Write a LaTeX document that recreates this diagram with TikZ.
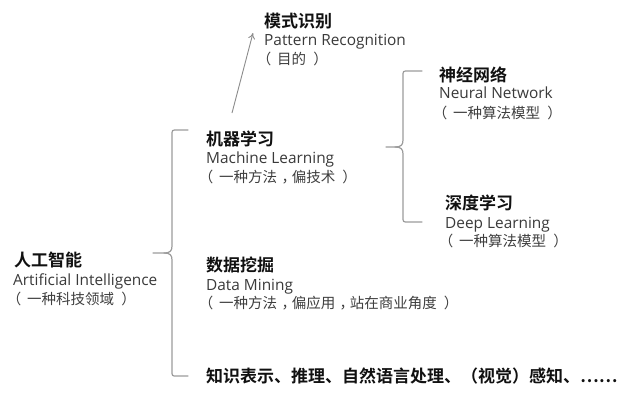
\documentclass[tikz,border=0pt]{standalone}
\usepackage{fontspec}
\setmainfont{Open Sans}
\newfontfamily\cjk{Noto Sans CJK SC}
\newfontfamily\cjkb{Noto Sans CJK SC Bold}
\usetikzlibrary{arrows.meta}
\definecolor{headc}{HTML}{111111}
\definecolor{engc}{HTML}{3A3A3A}
\definecolor{parc}{HTML}{3F3F3F}
\definecolor{linec}{HTML}{9C9C9C}
\newcommand\mylp{\makebox[0.9em][l]{\hspace{-0.5em}（}}
\newcommand\myrp{\makebox[0.95em][r]{）\hspace{-0.55em}}}
\newcommand\mycm{\hspace{0.3em}，\hspace{-0.3em}}
\tikzset{
  head/.style={anchor=base west, inner sep=0pt, text=headc, font=\cjkb\fontsize{17}{17}\selectfont},
  eng/.style={anchor=base west, inner sep=0pt, text=engc, font=\fontsize{15.4}{15.4}\selectfont},
  par/.style={anchor=base west, inner sep=0pt, text=parc, font=\cjk\fontsize{14.5}{14.5}\selectfont},
  brace/.style={draw=linec, line width=1.2pt, line cap=round, line join=round},
  arr/.style={draw=linec!90!black, line width=0.9pt, -{To[length=6pt,width=7pt]}}
}
\begin{document}
\begin{tikzpicture}[x=1pt,y=-1pt]
\useasboundingbox[fill=white] (0,0) rectangle (623,400);

% Pattern Recognition
\node[head] (pr1) at (264,27) {模式识别};
\node[eng]  (pr2) at (264,45) {Pattern Recognition};
\node[par]  (pr3) at (264,64) {\mylp 目的\myrp};

% Machine Learning
\node[head] (ml1) at (206,145) {机器学习};
\node[eng]  (ml2) at (206,163) {Machine Learning};
\node[par]  (ml3) at (206,182) {\mylp 一种方法\mycm 偏技术\myrp};

% Neural Network
\node[head] (nn1) at (439,81) {神经网络};
\node[eng]  (nn2) at (439,98) {Neural Network};
\node[par]  (nn3) at (440,118) {\mylp 一种算法模型\myrp};

% Deep Learning
\node[head] (dl1) at (445,209) {深度学习};
\node[eng]  (dl2) at (445,228) {Deep Learning};
\node[par]  (dl3) at (446,246) {\mylp 一种算法模型\myrp};

% Artificial Intelligence
\node[head] (ai1) at (14,266) {人工智能};
\node[eng]  (ai2) at (13,285) {Artificial Intelligence};
\node[par]  (ai3) at (14,304) {\mylp 一种科技领域\myrp};

% Data Mining
\node[head] (dm1) at (206,271) {数据挖掘};
\node[eng]  (dm2) at (206,290) {Data Mining};
\node[par]  (dm3) at (206,308) {\mylp 一种方法\mycm 偏应用\mycm 站在商业角度\myrp};

% Other
\node[head] (ot1) at (206,382) {知识表示、推理、自然语言处理、（视觉）感知、……};

% big brace
\coordinate (bT) at (188,130);
\coordinate (bB) at (188,376);
\coordinate (bM) at (153,253);
\draw[brace] (bT) -- (177,130) .. controls (172,130) .. (172,135) -- (172,246)
  .. controls (172,251) and (170,253) .. (164,253) -- (bM);
\draw[brace] (bB) -- (177,376) .. controls (172,376) .. (172,371) -- (172,260)
  .. controls (172,255) and (170,253) .. (164,253);

% small brace
\coordinate (sT) at (422,71);
\coordinate (sB) at (422,222);
\coordinate (sM) at (386,147);
\draw[brace] (sT) -- (408,71) .. controls (403,71) .. (403,76) -- (403,140)
  .. controls (403,145) and (401,147) .. (395,147) -- (sM);
\draw[brace] (sB) -- (408,222) .. controls (403,222) .. (403,217) -- (403,154)
  .. controls (403,149) and (401,147) .. (395,147);

% arrow
\coordinate (aS) at (232,113);
\coordinate (aE) at (253,33);
\draw[arr] (aS) -- (aE);
\end{tikzpicture}
\end{document}
